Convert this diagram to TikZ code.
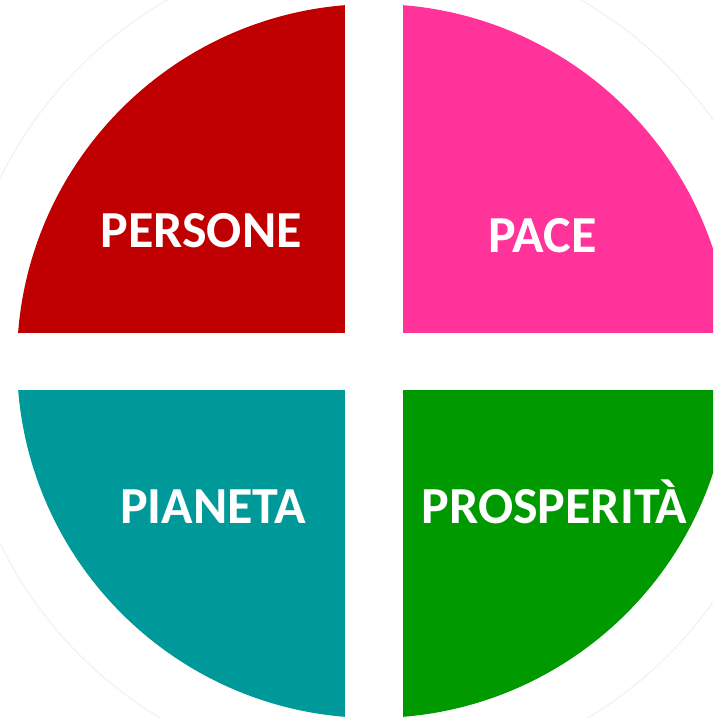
\documentclass[tikz,border=0pt]{standalone}
\usepackage{fontspec}
\setmainfont{Carlito}
\definecolor{qred}{HTML}{C00000}
\definecolor{qpink}{HTML}{FF3399}
\definecolor{qteal}{HTML}{009999}
\definecolor{qgreen}{HTML}{009900}
\tikzset{
  lbl/.style={anchor=base, text=white, inner sep=0pt, font=\fontsize{52}{52}\selectfont\bfseries},
}
\begin{document}
\begin{tikzpicture}[x=1pt,y=1pt]
\useasboundingbox (0,0) rectangle (713,718);
\clip (0,0) rectangle (713,718);
\fill[white] (0,0) rectangle (713,718);
\coordinate (c) at (374,357);
\draw[black!5, line width=1.2pt] (c) circle (416);
\begin{scope}
  \clip (c) circle (357);
  \fill[qred]   (0,385) rectangle (345,760);
  \fill[qpink]  (403,385) rectangle (760,760);
  \fill[qteal]  (0,-50) rectangle (345,328);
  \fill[qgreen] (403,-50) rectangle (760,328);
\end{scope}
\node[lbl] (persone) at (201,470) {PERSONE};
\node[lbl] (pace) at (542.5,465) {PACE};
\node[lbl] (pianeta) at (213,194) {PIANETA};
\node[lbl] (prosperita) at (554.5,194) {PROSPERITÀ};
\end{tikzpicture}
\end{document}
